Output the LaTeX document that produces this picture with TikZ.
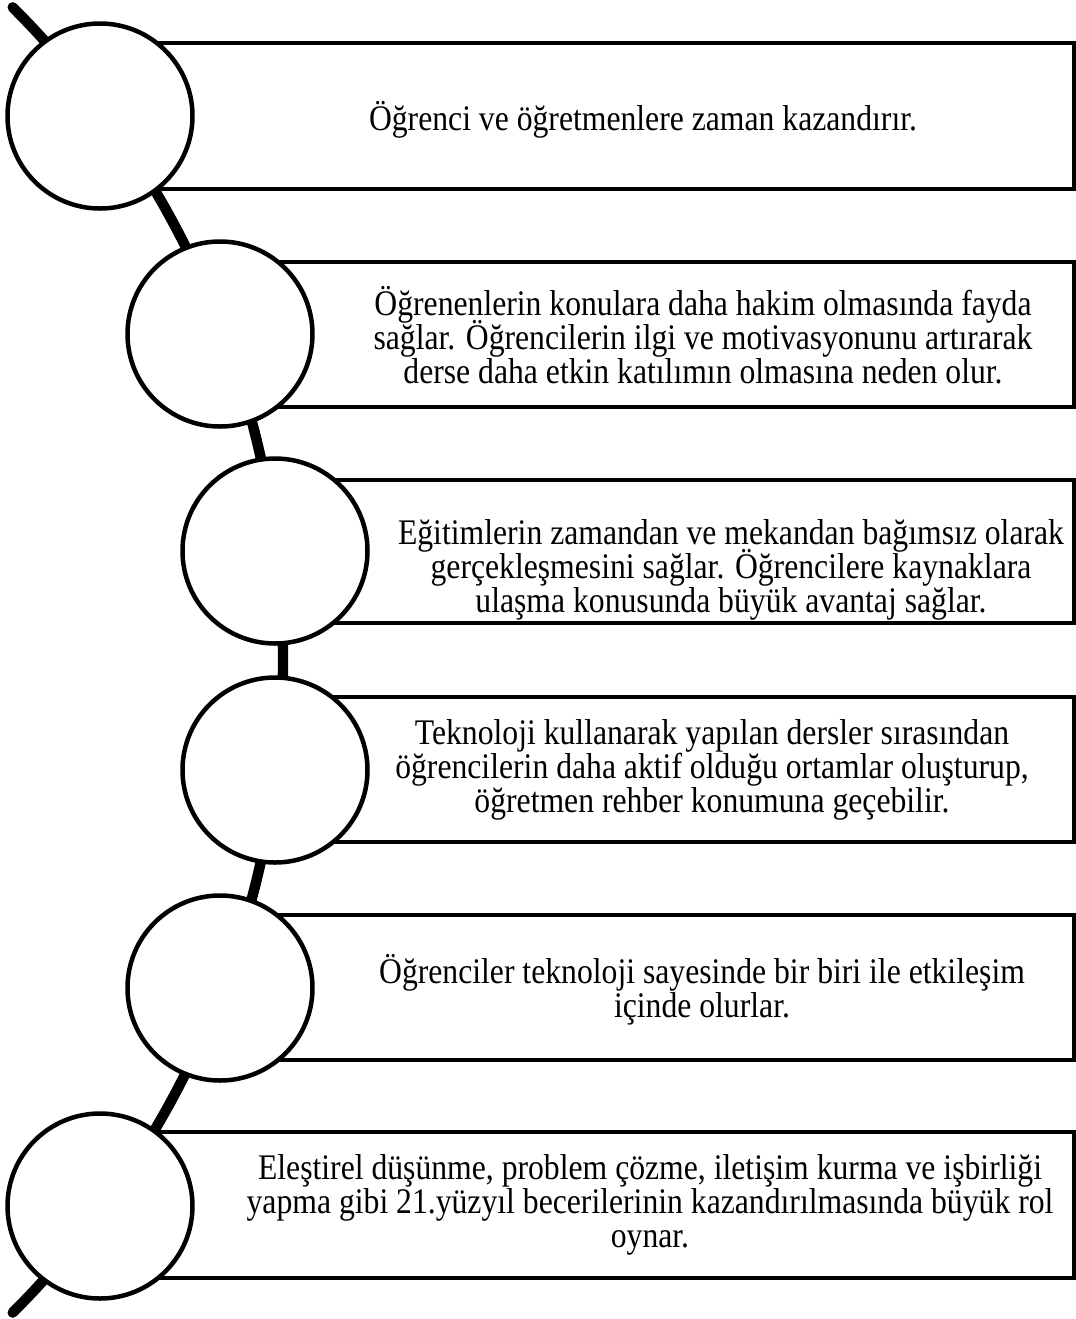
\documentclass[tikz,border=0pt]{standalone}
\usepackage{fontspec}
\setmainfont[FakeStretch=0.88]{Liberation Serif}
\newcommand\panelfont{\fontsize{18}{16.9}\selectfont\lineskiplimit=-100pt\relax\lineskip=0pt\relax}
\begin{document}
\begin{tikzpicture}[x=0.5pt,y=-0.5pt,
  panel/.style={draw=black, line width=2pt, fill=white, rectangle, inner sep=0pt},
  marker/.style={draw=black, line width=2.25pt, fill=white, circle, inner sep=0pt, minimum size=92.5pt},
  caption/.style={align=center, inner sep=0pt, font=\panelfont},
  spine/.style={line width=5.2pt, line cap=round}]
\useasboundingbox (0,0) rectangle (1076,1319);

% the curved spine behind everything
\coordinate (top) at (12.7,7.3);
\draw[spine] (top) arc[start angle=45, end angle=-45, radius=461.5pt] coordinate (bottom);

% text panels
\node[panel, minimum width=487pt,   minimum height=73pt]   (r1) at (587,116) {};
\node[panel, minimum width=427pt,   minimum height=72.5pt] (r2) at (647,334.5) {};
\node[panel, minimum width=399.5pt, minimum height=71.5pt] (r3) at (674.5,551.5) {};
\node[panel, minimum width=399.5pt, minimum height=72.5pt] (r4) at (674.5,769.5) {};
\node[panel, minimum width=427pt,   minimum height=72.5pt] (r5) at (647,987.5) {};
\node[panel, minimum width=487pt,   minimum height=73pt]   (r6) at (587,1205) {};

% round markers on the spine
\node[marker] (c1) at (100,116) {};
\node[marker] (c2) at (220,334) {};
\node[marker] (c3) at (275,551) {};
\node[marker] (c4) at (275,770) {};
\node[marker] (c5) at (220,988) {};
\node[marker] (c6) at (100,1206) {};

% captions
\node[caption] (t1) at (643,120) {Öğrenci ve öğretmenlere zaman kazandırır.};
\node[caption] (t2) at (703,335) {Öğrenenlerin konulara daha hakim olmasında fayda\\sağlar. Öğrencilerin ilgi ve motivasyonunu artırarak\\derse daha etkin katılımın olmasına neden olur.};
\node[caption] (t3) at (731,570) {Eğitimlerin zamandan ve mekandan bağımsız olarak\\gerçekleşmesini sağlar. Öğrencilere kaynaklara\\ulaşma konusunda büyük avantaj sağlar.};
\node[caption] (t4) at (712,770) {Teknoloji kullanarak yapılan dersler sırasından\\öğrencilerin daha aktif olduğu ortamlar oluşturup,\\öğretmen rehber konumuna geçebilir.};
\node[caption] (t5) at (702,990) {Öğrenciler teknoloji sayesinde bir biri ile etkileşim\\içinde olurlar.};
\node[caption] (t6) at (650,1205) {Eleştirel düşünme, problem çözme, iletişim kurma ve işbirliği\\yapma gibi 21.yüzyıl becerilerinin kazandırılmasında büyük rol\\oynar.};
\end{tikzpicture}
\end{document}
